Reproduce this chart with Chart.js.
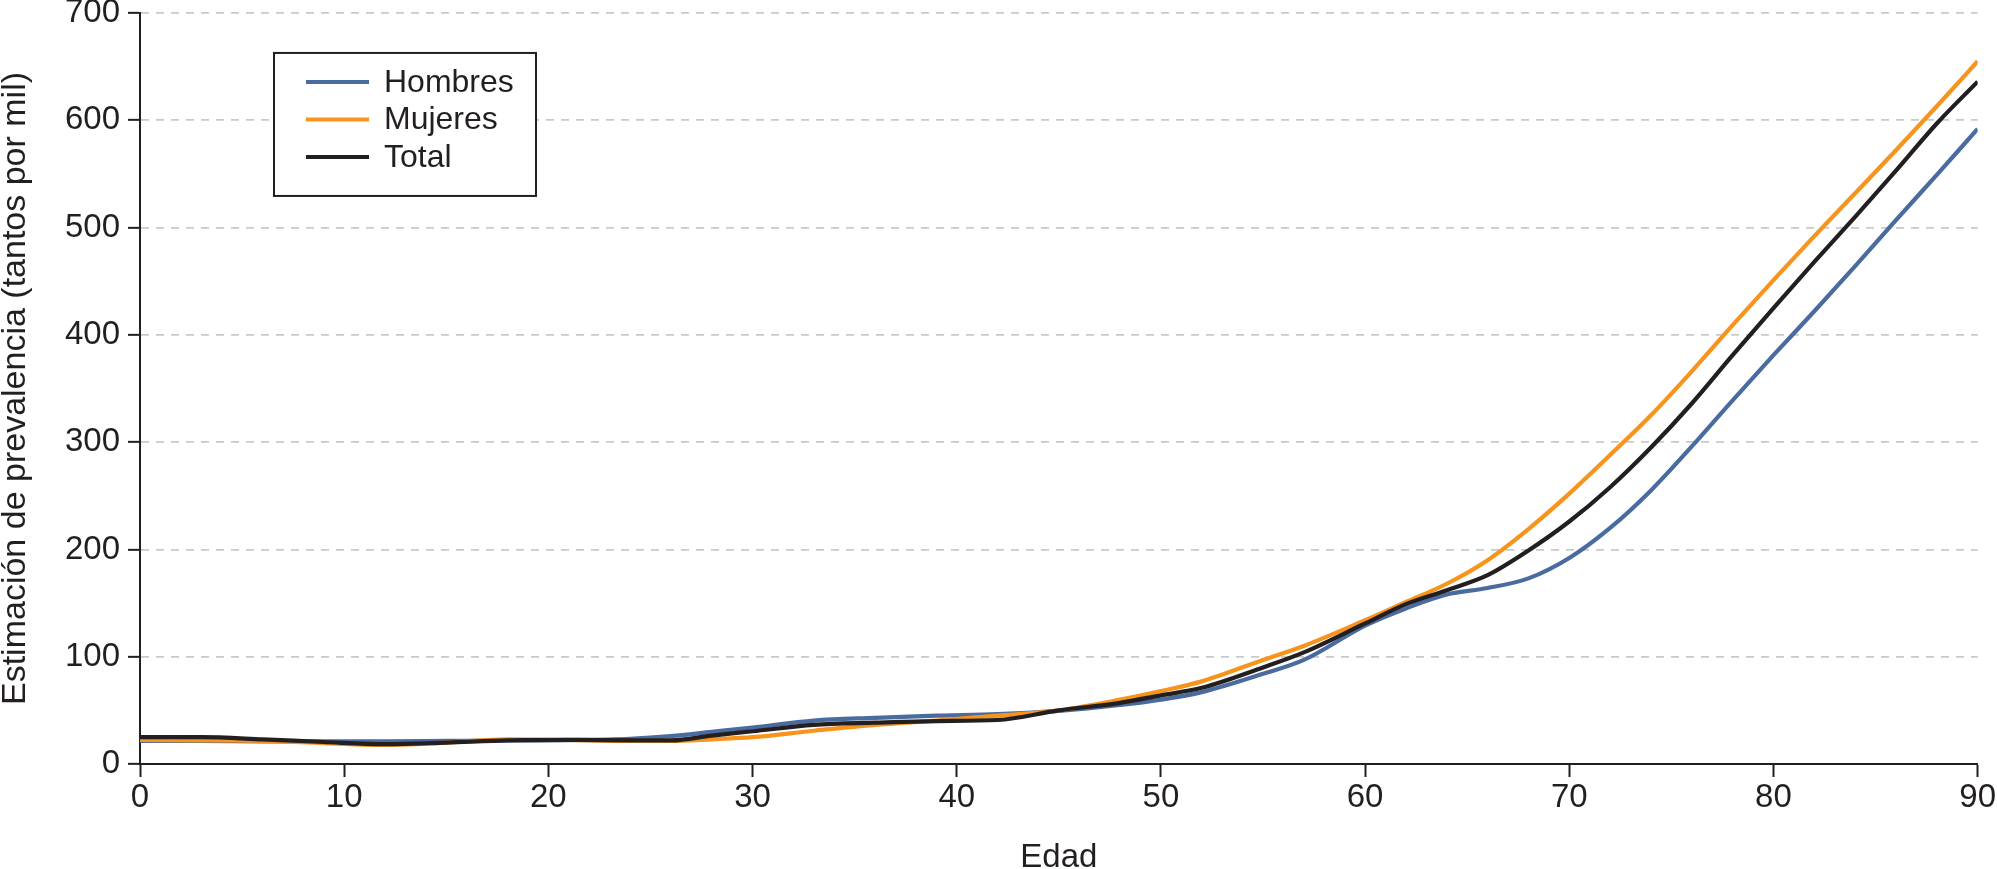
<!DOCTYPE html>
<html><head><meta charset="utf-8">
<script src="https://cdn.jsdelivr.net/npm/chart.js@4.4.1/dist/chart.umd.min.js"></script>
<style>html,body{margin:0;padding:0;background:#fff;}#wrap{width:1997px;height:869px;}</style>
</head><body><div id="wrap"><canvas id="c" width="1997" height="869"></canvas></div>
<script>
const ages    = [0, 3, 6, 9, 12, 15, 18, 21, 24, 26, 28, 30, 33, 36, 39, 42, 45, 48, 50, 52, 55, 57, 60, 62, 64, 66, 68, 70, 72, 74, 76, 78, 80, 82, 84, 86, 88, 90];
const hombres = [21.5, 21.5, 21, 21, 21, 21.5, 22, 22.3, 23.5, 26, 30, 34, 40.5, 43, 45, 46.5, 49.5, 55, 60, 67, 84, 97, 129, 145, 158, 164, 173, 192, 220, 255, 296, 339, 381, 422, 464, 507, 549, 592];
const mujeres = [22.4, 22, 21.5, 19.5, 17.7, 20, 23, 22.4, 21.5, 21.5, 23, 25, 31, 36.5, 40.5, 45, 50, 60, 68, 77, 97, 110, 134, 151, 168, 190, 219, 252, 288, 325, 366, 409, 451, 492, 532, 572, 613, 655];
const total   = [25, 25, 23, 20.5, 18.5, 20, 22, 22.4, 22, 22, 26.5, 30.5, 36.5, 38.5, 40, 41, 50, 57, 64, 71, 90, 104, 131, 149, 162, 176, 199, 226, 258, 295, 336, 381, 425, 468, 510, 553, 597, 636];
const seriesNames = ['Hombres', 'Mujeres', 'Total'];
const xTickValues = [0, 10, 20, 30, 40, 50, 60, 70, 80, 90];
const yTickValues = [0, 100, 200, 300, 400, 500, 600, 700];
const xTitle = 'Edad';
const yTitle = 'Estimación de prevalencia (tantos por mil)';

const FONT = "'Liberation Sans', Arial, sans-serif";
const INK = '#231f20';
const colors = ['#4a6b9f', '#f7941d', '#231f20'];

const toXY = arr => ages.map((a, i) => ({x: a, y: arr[i]}));

const legendBox = {
  id: 'legendBox',
  afterDraw(chart) {
    const ctx = chart.ctx;
    const ca = chart.chartArea;
    const bx = ca.left + 134, by = ca.top + 40, bw = 262, bh = 143;
    ctx.save();
    ctx.fillStyle = '#fff';
    ctx.fillRect(bx, by, bw, bh);
    ctx.strokeStyle = INK; ctx.lineWidth = 2;
    ctx.strokeRect(bx, by, bw, bh);
    ctx.font = '32px ' + FONT;
    ctx.textBaseline = 'middle';
    ctx.textAlign = 'left';
    chart.data.datasets.forEach((ds, i) => {
      const y = by + 29 + i * 37.5;
      ctx.strokeStyle = ds.borderColor; ctx.lineWidth = 4;
      ctx.beginPath(); ctx.moveTo(bx + 32, y); ctx.lineTo(bx + 95, y); ctx.stroke();
      ctx.fillStyle = INK;
      ctx.fillText(ds.label, bx + 110, y + 1);
    });
    ctx.restore();
  }
};

new Chart(document.getElementById('c'), {
  type: 'line',
  data: {
    datasets: [
      {label: seriesNames[0], data: toXY(hombres), borderColor: colors[0], order: 2},
      {label: seriesNames[1], data: toXY(mujeres), borderColor: colors[1], order: 1},
      {label: seriesNames[2], data: toXY(total), borderColor: colors[2], order: 0}
    ].map(d => Object.assign(d, {borderWidth: 4.2, pointRadius: 0, fill: false, cubicInterpolationMode: 'monotone'}))
  },
  options: {
    responsive: false,
    animation: false,
    devicePixelRatio: 1,
    layout: {padding: {left: 0, right: 9, top: 0, bottom: 0}},
    plugins: {legend: {display: false}, tooltip: {enabled: false}},
    scales: {
      x: {
        type: 'linear', min: 0, max: 90,
        afterBuildTicks: s => { s.ticks = xTickValues.map(v => ({value: v})); },
        afterFit: s => { s.height = 105; },
        ticks: {font: {family: FONT, size: 33, lineHeight: 1.2}, color: INK, padding: 1},
        grid: {drawOnChartArea: false, drawTicks: true, tickLength: 13, tickColor: INK, tickWidth: 2},
        border: {color: INK, width: 2},
        title: {display: true, text: xTitle, font: {family: FONT, size: 33, lineHeight: 0.7}, color: INK, padding: {top: 0, bottom: 0}}
      },
      y: {
        type: 'linear', min: 0, max: 700,
        afterBuildTicks: s => { s.ticks = yTickValues.map(v => ({value: v})); },
        afterFit: s => { s.width = 140; },
        ticks: {font: {family: FONT, size: 33, lineHeight: 0.3}, color: INK, padding: 8},
        grid: {
          color: c => (c.tick && c.tick.value === 0) ? 'rgba(0,0,0,0)' : '#c9c9c9',
          lineWidth: 1.7, drawTicks: true, tickLength: 12, tickColor: INK, tickWidth: 2
        },
        border: {color: INK, width: 2, dash: [8, 7]},
        title: {display: true, text: yTitle, font: {family: FONT, size: 34, lineHeight: 0.9}, color: INK, padding: {top: 0, bottom: 0}}
      }
    }
  },
  plugins: [legendBox]
});
</script>
</body></html>
